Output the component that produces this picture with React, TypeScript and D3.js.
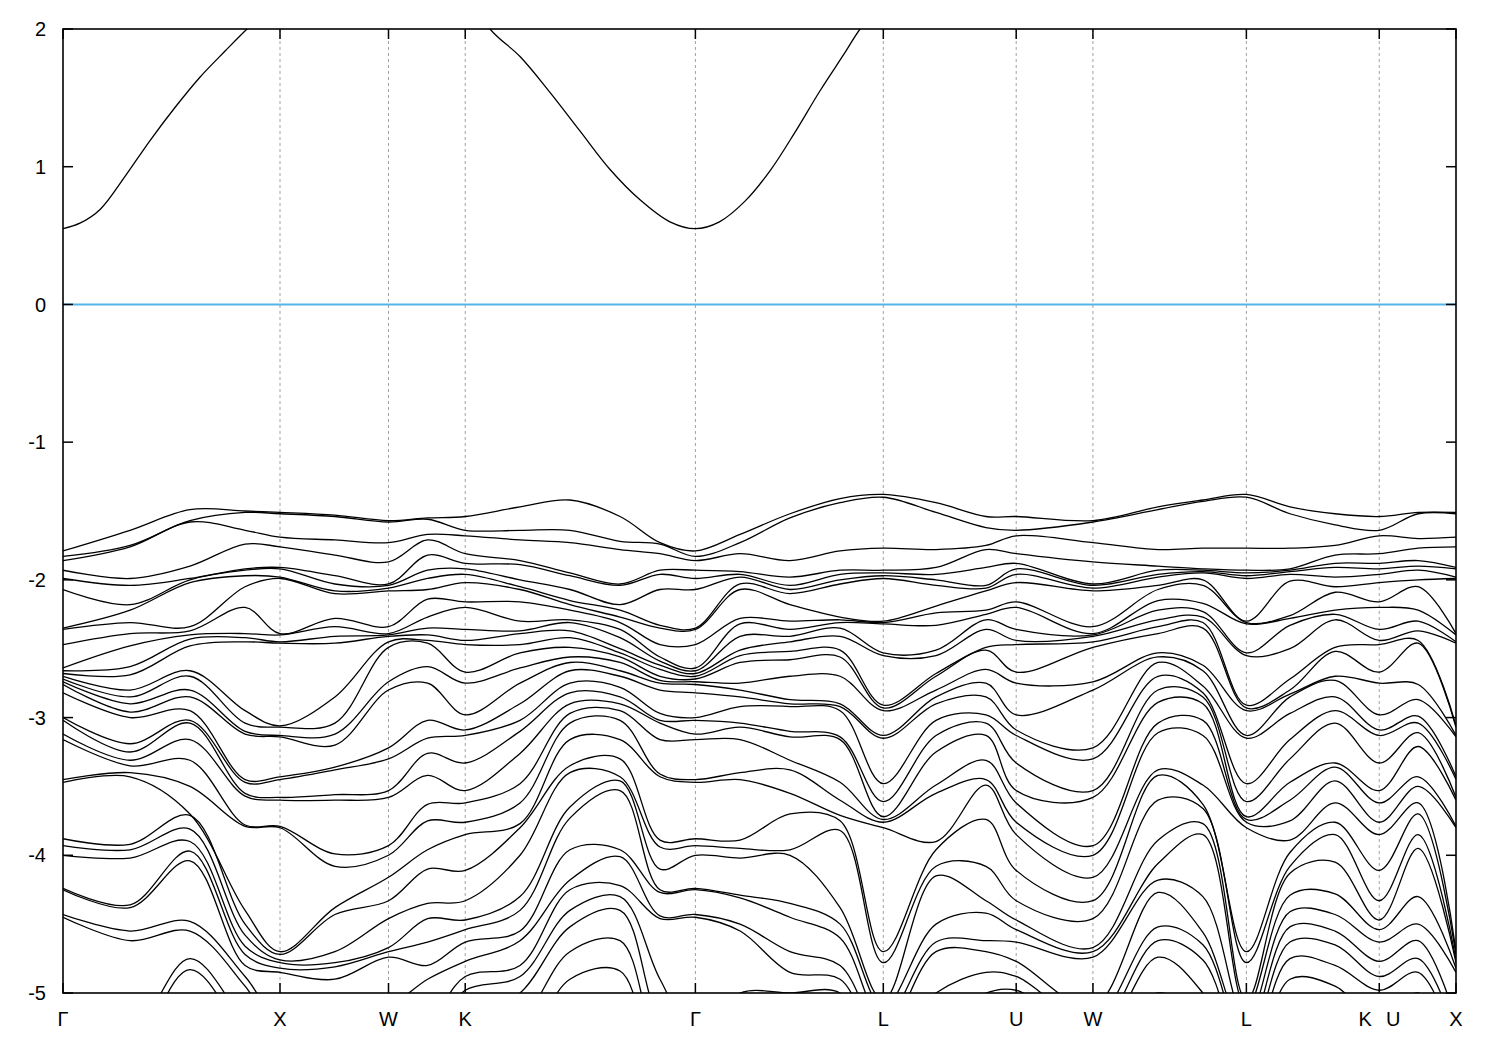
import React from "react";
import * as d3 from "d3";

// ---------- data ----------
const symLabels = ["Γ", "X", "W", "K", "Γ", "L", "U", "W", "L", "K U", "X"];
const symK = [0, 1, 1.5, 1.8536, 2.9142, 3.7802, 4.3926, 4.7462, 5.4533, 6.0657, 6.4193];
const yTicks = [-5, -4, -3, -2, -1, 0, 1, 2];

// k-points at which valence eigenvalues were read
const kGrid = [0, 0.309, 0.585, 0.839, 1.0, 1.253, 1.5, 1.68, 1.8536, 2.106, 2.336, 2.567, 2.751, 2.9142,
  3.12, 3.35, 3.581, 3.7802, 4.023, 4.253, 4.3926, 4.7462, 5.046, 5.253, 5.4533, 5.654, 5.862, 6.0657, 6.245, 6.4193];

const eGamma = [-1.79,-1.83,-1.86,-1.93,-1.99,-2.07,-2.35,-2.36,-2.47,-2.64,-2.66,-2.68,-2.70,-2.72,-2.74,-2.76,-2.82,-3.00,-3.02,-3.12,-3.16,-3.45,-3.47,-3.88,-3.93,-4.00,-4.24,-4.25,-4.43,-4.45,-5.3,-5.4,-5.5,-5.6];
const e130 = [-1.64,-1.75,-1.76,-1.99,-2.04,-2.18,-2.22,-2.31,-2.39,-2.48,-2.63,-2.69,-2.80,-2.85,-2.90,-2.96,-3.00,-3.19,-3.25,-3.31,-3.35,-3.40,-3.43,-3.92,-3.96,-4.02,-4.36,-4.38,-4.55,-4.62,-5.3,-5.4,-5.5,-5.6];
const e190 = [-1.49,-1.57,-1.58,-1.90,-1.99,-2.00,-2.02,-2.34,-2.37,-2.40,-2.43,-2.48,-2.66,-2.70,-2.80,-2.85,-2.95,-3.02,-3.04,-3.16,-3.31,-3.50,-3.70,-3.71,-3.81,-3.90,-3.97,-4.04,-4.48,-4.55,-4.75,-4.83,-5.3,-5.4];
const e245 = [-1.50,-1.51,-1.64,-1.74,-1.92,-1.93,-1.97,-2.05,-2.20,-2.39,-2.42,-2.45,-2.95,-3.04,-3.10,-3.12,-3.45,-3.47,-3.55,-3.57,-3.78,-3.79,-4.40,-4.50,-4.58,-4.66,-4.72,-4.80,-4.88,-4.95,-5.2,-5.3,-5.4,-5.5];
const eX = [-1.51,-1.52,-1.69,-1.76,-1.91,-1.92,-1.98,-1.99,-2.39,-2.40,-2.45,-2.46,-3.06,-3.07,-3.13,-3.14,-3.43,-3.45,-3.58,-3.60,-3.79,-3.80,-4.70,-4.72,-4.76,-4.78,-4.82,-4.85,-5.2,-5.3,-5.4,-5.5,-5.6,-5.7];
const e335 = [-1.53,-1.54,-1.71,-1.82,-1.97,-2.03,-2.08,-2.10,-2.28,-2.34,-2.41,-2.46,-2.85,-3.04,-3.12,-3.20,-3.36,-3.38,-3.56,-3.60,-3.99,-4.08,-4.38,-4.43,-4.70,-4.78,-4.81,-4.90,-5.2,-5.3,-5.4,-5.5,-5.6,-5.7];
const eW = [-1.57,-1.58,-1.73,-1.87,-2.03,-2.04,-2.06,-2.08,-2.34,-2.39,-2.40,-2.41,-2.45,-2.49,-2.74,-2.80,-3.22,-3.30,-3.53,-3.58,-3.93,-4.00,-4.16,-4.33,-4.46,-4.67,-4.70,-4.74,-5.1,-5.2,-5.3,-5.4,-5.5,-5.6];
const e428 = [-1.55,-1.56,-1.67,-1.71,-1.82,-1.93,-1.99,-2.07,-2.14,-2.27,-2.35,-2.40,-2.44,-2.46,-2.63,-2.75,-3.02,-3.15,-3.26,-3.42,-3.63,-3.75,-3.96,-4.10,-4.35,-4.46,-4.63,-4.80,-4.90,-5.2,-5.3,-5.4,-5.5,-5.6];
const eK = [-1.54,-1.64,-1.68,-1.81,-1.88,-1.92,-1.96,-2.02,-2.16,-2.20,-2.36,-2.44,-2.47,-2.67,-2.75,-2.98,-3.09,-3.13,-3.33,-3.53,-3.62,-3.76,-3.85,-4.11,-4.33,-4.47,-4.54,-4.63,-4.77,-4.88,-4.98,-5.2,-5.3,-5.4];
const e520 = [-1.47,-1.64,-1.71,-1.86,-1.89,-2.00,-2.05,-2.07,-2.16,-2.30,-2.37,-2.39,-2.47,-2.53,-2.64,-2.75,-2.90,-3.02,-3.10,-3.26,-3.48,-3.62,-3.77,-3.80,-4.00,-4.30,-4.40,-4.55,-4.62,-4.80,-4.88,-5.0,-5.2,-5.4];
const e570 = [-1.42,-1.64,-1.73,-1.95,-1.97,-2.07,-2.15,-2.18,-2.22,-2.29,-2.31,-2.37,-2.42,-2.49,-2.56,-2.60,-2.66,-2.75,-2.82,-2.90,-2.97,-3.04,-3.16,-3.35,-3.40,-3.65,-3.73,-3.96,-4.18,-4.25,-4.40,-4.52,-4.70,-4.90];
const e620 = [-1.54,-1.72,-1.78,-2.03,-2.04,-2.18,-2.22,-2.27,-2.31,-2.36,-2.42,-2.50,-2.53,-2.56,-2.60,-2.66,-2.70,-2.78,-2.85,-2.90,-2.95,-3.02,-3.16,-3.30,-3.43,-3.46,-3.53,-3.96,-4.01,-4.22,-4.30,-4.40,-4.62,-4.84];
const e660 = [-1.73,-1.74,-1.81,-1.93,-1.96,-2.07,-2.33,-2.35,-2.47,-2.56,-2.59,-2.62,-2.65,-2.70,-2.73,-2.75,-2.80,-2.97,-3.02,-3.04,-3.16,-3.41,-3.43,-3.89,-3.94,-4.10,-4.25,-4.27,-4.44,-4.46,-4.90,-5.2,-5.4,-5.6];
const e740 = [-1.67,-1.73,-1.81,-1.94,-1.96,-1.98,-2.03,-2.07,-2.28,-2.32,-2.41,-2.51,-2.55,-2.60,-2.75,-2.80,-2.85,-2.92,-3.04,-3.07,-3.16,-3.40,-3.45,-3.89,-3.95,-4.02,-4.29,-4.31,-4.50,-4.55,-5.0,-5.2,-5.4,-5.6];
const e790 = [-1.52,-1.55,-1.86,-1.98,-2.04,-2.07,-2.10,-2.18,-2.30,-2.36,-2.41,-2.45,-2.52,-2.58,-2.70,-2.87,-2.90,-2.92,-3.10,-3.14,-3.31,-3.38,-3.55,-3.70,-3.96,-4.00,-4.35,-4.45,-4.70,-4.85,-5.0,-5.2,-5.4,-5.6];
const e840 = [-1.41,-1.44,-1.79,-1.93,-1.96,-2.00,-2.03,-2.27,-2.29,-2.31,-2.35,-2.41,-2.51,-2.56,-2.70,-2.90,-2.92,-2.95,-3.14,-3.16,-3.47,-3.60,-3.71,-3.75,-3.82,-4.38,-4.50,-4.60,-4.80,-4.90,-5.0,-5.2,-5.4,-5.6];
const eL = [-1.38,-1.40,-1.77,-1.93,-1.95,-1.97,-1.99,-2.30,-2.31,-2.32,-2.53,-2.55,-2.91,-2.93,-2.95,-3.13,-3.15,-3.48,-3.61,-3.72,-3.74,-3.76,-3.80,-4.70,-4.78,-5.05,-5.1,-5.2,-5.3,-5.4,-5.5,-5.6,-5.7,-5.8];
const e936 = [-1.44,-1.51,-1.78,-1.91,-1.96,-2.00,-2.04,-2.19,-2.24,-2.33,-2.51,-2.55,-2.68,-2.70,-2.80,-2.85,-2.90,-3.02,-3.13,-3.25,-3.49,-3.55,-3.90,-3.96,-4.08,-4.15,-4.50,-4.63,-4.70,-5.0,-5.2,-5.4,-5.6,-5.8];
const e986 = [-1.54,-1.62,-1.75,-1.78,-1.91,-2.04,-2.06,-2.08,-2.22,-2.25,-2.29,-2.36,-2.49,-2.51,-2.65,-2.75,-2.85,-2.98,-3.04,-3.13,-3.31,-3.45,-3.49,-3.74,-4.08,-4.33,-4.42,-4.62,-4.70,-4.85,-5.0,-5.2,-5.4,-5.6];
const e1158 = [-1.47,-1.49,-1.78,-1.90,-1.93,-1.96,-1.98,-2.04,-2.07,-2.15,-2.22,-2.29,-2.34,-2.39,-2.53,-2.56,-2.60,-2.70,-2.80,-2.89,-3.04,-3.11,-3.38,-3.42,-3.60,-3.89,-4.06,-4.18,-4.27,-4.52,-4.62,-4.74,-5.0,-5.2];
const e1203 = [-1.42,-1.43,-1.77,-1.92,-1.93,-1.94,-1.95,-2.00,-2.04,-2.17,-2.23,-2.27,-2.31,-2.35,-2.62,-2.66,-2.77,-2.82,-2.85,-2.90,-3.02,-3.13,-3.49,-3.63,-3.66,-3.77,-3.85,-4.30,-4.56,-4.65,-4.76,-5.0,-5.2,-5.4];
const e1290 = [-1.47,-1.52,-1.77,-1.92,-1.93,-1.94,-1.96,-2.01,-2.26,-2.28,-2.33,-2.50,-2.72,-2.80,-2.83,-2.85,-2.97,-3.16,-3.30,-3.47,-3.60,-3.75,-3.89,-3.98,-4.08,-4.13,-4.29,-4.41,-4.52,-4.63,-4.75,-4.90,-5.2,-5.4];
const e1335 = [-1.52,-1.60,-1.75,-1.82,-1.88,-1.91,-1.98,-2.05,-2.09,-2.22,-2.25,-2.29,-2.49,-2.52,-2.70,-2.73,-2.85,-2.95,-3.04,-3.33,-3.36,-3.46,-3.62,-3.76,-3.85,-4.05,-4.28,-4.43,-4.55,-4.65,-4.80,-4.95,-5.2,-5.4];
const e1420 = [-1.51,-1.52,-1.70,-1.77,-1.86,-1.90,-1.93,-2.00,-2.05,-2.22,-2.30,-2.37,-2.44,-2.46,-2.76,-2.87,-2.99,-3.04,-3.11,-3.21,-3.43,-3.50,-3.62,-3.70,-3.85,-3.95,-4.30,-4.50,-4.62,-4.75,-4.85,-5.0,-5.2,-5.4];

const eigenvalues = [eGamma, e130, e190, e245, eX, e335, eW, e428, eK, e520, e570, e620, e660, eGamma,
  e740, e790, e840, eL, e936, e986, eK, eW, e1158, e1203, eL, e1290, e1335, eK, e1420, eX];

// conduction band (lowest unoccupied)
const condK = [0, 0.078, 0.171, 0.286, 0.401, 0.516, 0.631, 0.747, 0.848, 1.0, 1.253, 1.5, 1.8536, 1.968, 2.106,
  2.244, 2.382, 2.521, 2.659, 2.797, 2.9142, 3.025, 3.143, 3.258, 3.373, 3.488, 3.604, 3.673, 3.7802];
const condE = [0.55, 0.59, 0.69, 0.93, 1.19, 1.43, 1.65, 1.84, 2.0, 2.22, 2.5, 2.6, 2.3, 2.0, 1.80,
  1.54, 1.26, 0.98, 0.76, 0.60, 0.55, 0.60, 0.75, 0.97, 1.25, 1.55, 1.83, 2.0, 2.2];

// ---------- chart ----------
const WIDTH = 1500;
const HEIGHT = 1050;
const PL = 63, PR = 1456, PT = 29, PB = 993;
const FONT = "'Liberation Sans', Arial, Helvetica, sans-serif";

export default function App() {
  const x = d3.scaleLinear().domain([symK[0], symK[symK.length - 1]]).range([PL, PR]);
  const y = d3.scaleLinear().domain([-5, 2]).range([PB, PT]);

  const line = d3
    .line<[number, number]>()
    .x((d) => x(d[0]))
    .y((d) => y(d[1]))
    .curve(d3.curveCatmullRom.alpha(0.5));

  const nBands = eigenvalues[0].length;
  const bands: [number, number][][] = d3.range(nBands).map((b) =>
    kGrid.map((k, i) => [k, eigenvalues[i][b]] as [number, number])
  );
  const cond: [number, number][] = condK.map((k, i) => [k, condE[i]]);

  return (
    <svg
      width={WIDTH}
      height={HEIGHT}
      style={{ position: "absolute", left: 0, top: 0, display: "block", background: "#fff" }}
    >
      <defs>
        <clipPath id="plotclip">
          <rect x={PL} y={PT} width={PR - PL} height={PB - PT} />
        </clipPath>
      </defs>
      <rect x={0} y={0} width={WIDTH} height={HEIGHT} fill="#fff" />

      {/* dashed verticals */}
      {symK.slice(1, -1).map((k, i) => (
        <line key={"g" + i} x1={x(k)} x2={x(k)} y1={PT} y2={PB} stroke="#a0a0a0" strokeWidth={1} strokeDasharray="3,3" />
      ))}

      {/* Fermi level */}
      <line x1={PL} x2={PR} y1={y(0)} y2={y(0)} stroke="#56b4e9" strokeWidth={2} />

      <g clipPath="url(#plotclip)" fill="none" stroke="#000" strokeWidth={1.3}>
        {bands.map((b, i) => (
          <path key={"b" + i} d={line(b) || ""} />
        ))}
        <path d={line(cond) || ""} />
      </g>

      {/* frame */}
      <rect x={PL} y={PT} width={PR - PL} height={PB - PT} fill="none" stroke="#000" strokeWidth={1.6} />

      {/* y ticks */}
      {yTicks.map((t) => (
        <g key={"y" + t}>
          <line x1={PL} x2={PL + 10} y1={y(t)} y2={y(t)} stroke="#000" strokeWidth={1.5} />
          <line x1={PR - 10} x2={PR} y1={y(t)} y2={y(t)} stroke="#000" strokeWidth={1.5} />
          <text x={PL - 17} y={y(t)} dy="0.36em" textAnchor="end" fontFamily={FONT} fontSize={20} fill="#000">
            {t}
          </text>
        </g>
      ))}

      {/* x ticks */}
      {symK.map((k, i) => (
        <g key={"x" + i}>
          <line x1={x(k)} x2={x(k)} y1={PB} y2={PB - 10} stroke="#000" strokeWidth={1.5} />
          <line x1={x(k)} x2={x(k)} y1={PT} y2={PT + 10} stroke="#000" strokeWidth={1.5} />
        </g>
      ))}
      {symLabels.map((lab, i) => {
        const parts = lab.split(" ");
        if (parts.length === 2) {
          return (
            <g key={"l" + i}>
              <text x={x(symK[i]) - 14} y={1026} textAnchor="middle" fontFamily={FONT} fontSize={20} fill="#000">
                {parts[0]}
              </text>
              <text x={x(symK[i]) + 14} y={1026} textAnchor="middle" fontFamily={FONT} fontSize={20} fill="#000">
                {parts[1]}
              </text>
            </g>
          );
        }
        return (
          <text key={"l" + i} x={x(symK[i])} y={1026} textAnchor="middle" fontFamily={FONT} fontSize={20} fill="#000">
            {lab}
          </text>
        );
      })}
    </svg>
  );
}
